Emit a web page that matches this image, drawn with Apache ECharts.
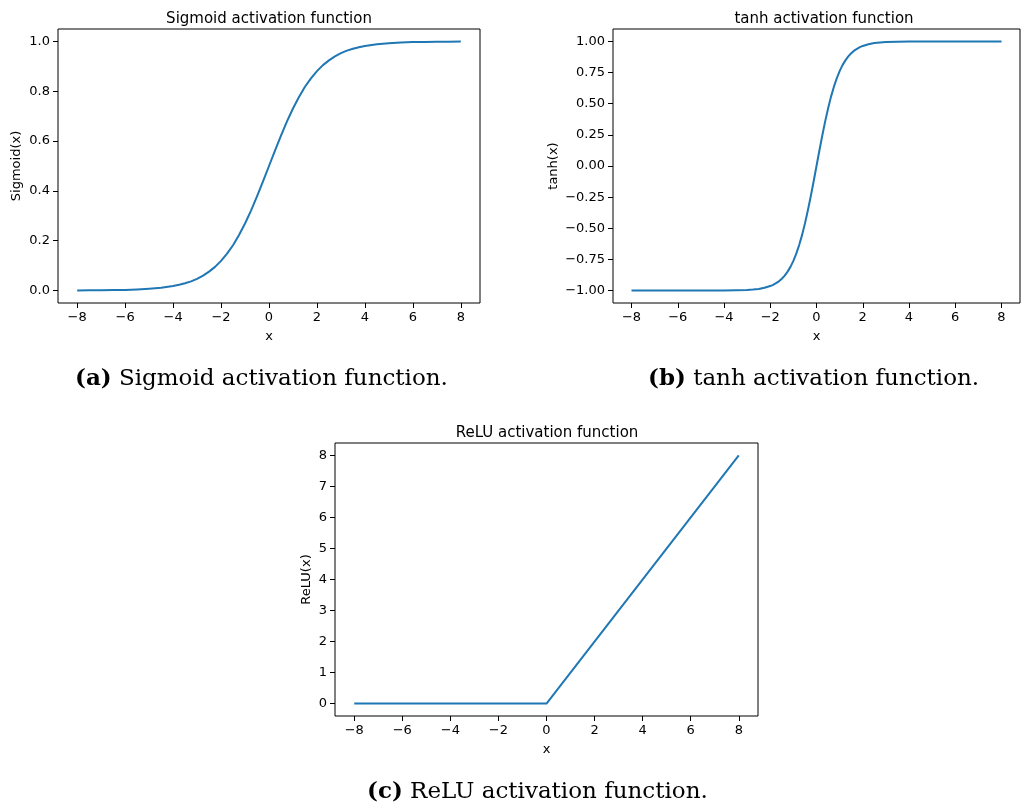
<!DOCTYPE html>
<html lang="en">
<head>
  <meta charset="UTF-8">
  <title>Activation functions</title>
  <script src="https://cdn.jsdelivr.net/npm/echarts@6/dist/echarts.min.js"></script>
  <style>
    html, body { margin: 0; padding: 0; background: #fff; }
  </style>
</head>
<body>
    <div id="main" style="width: 1024px;height:807px;"></div>
    <script type="text/javascript">
        // values
        var sigX = [-8, -7.5, -7, -6.5, -6, -5.5, -5, -4.5, -4, -3.75, -3.5, -3.25, -3, -2.75, -2.5, -2.25, -2, -1.75,
                    -1.5, -1.25, -1, -0.75, -0.5, -0.25, 0, 0.25, 0.5, 0.75, 1, 1.25, 1.5, 1.75, 2, 2.25, 2.5, 2.75,
                    3, 3.25, 3.5, 3.75, 4, 4.5, 5, 5.5, 6, 6.5, 7, 7.5, 8];
        var sigY = [0.000, 0.001, 0.001, 0.002, 0.002, 0.004, 0.007, 0.011, 0.018, 0.023, 0.029, 0.037, 0.047, 0.060, 0.076, 0.095, 0.119, 0.148,
                    0.182, 0.223, 0.269, 0.321, 0.378, 0.438, 0.500, 0.562, 0.622, 0.679, 0.731, 0.777, 0.818, 0.852, 0.881, 0.905, 0.924, 0.940,
                    0.953, 0.963, 0.971, 0.977, 0.982, 0.989, 0.993, 0.996, 0.998, 0.998, 0.999, 0.999, 1.000];

        var tanhX = [-8, -6, -4, -3.5, -3, -2.75, -2.5, -2.25, -2, -1.875, -1.75, -1.625, -1.5, -1.375, -1.25, -1.125,
                     -1, -0.875, -0.75, -0.625, -0.5, -0.375, -0.25, -0.125, 0, 0.125, 0.25, 0.375, 0.5, 0.625, 0.75, 0.875,
                     1, 1.125, 1.25, 1.375, 1.5, 1.625, 1.75, 1.875, 2, 2.25, 2.5, 2.75, 3, 3.5, 4, 6, 8];
        var tanhY = [-1.000, -1.000, -0.999, -0.998, -0.995, -0.992, -0.987, -0.978, -0.964, -0.954, -0.941, -0.926, -0.905, -0.880, -0.848, -0.810,
                     -0.762, -0.704, -0.635, -0.555, -0.462, -0.358, -0.245, -0.124, 0.000, 0.124, 0.245, 0.358, 0.462, 0.555, 0.635, 0.704,
                     0.762, 0.810, 0.848, 0.880, 0.905, 0.926, 0.941, 0.954, 0.964, 0.978, 0.987, 0.992, 0.995, 0.998, 0.999, 1.000, 1.000];

        var reluX = [-8, 0, 8];
        var reluY = [0, 0, 8];

        var xTicks = [-8, -6, -4, -2, 0, 2, 4, 6, 8];
        var sigTicks = [0, 0.2, 0.4, 0.6, 0.8, 1.0];
        var tanhTicks = [-1, -0.75, -0.5, -0.25, 0, 0.25, 0.5, 0.75, 1];
        var reluTicks = [0, 1, 2, 3, 4, 5, 6, 7, 8];

        var titles = ['Sigmoid activation function', 'tanh activation function', 'ReLU activation function'];
        var yNames = ['Sigmoid(x)', 'tanh(x)', 'ReLU(x)'];

        function pairs(xs, ys) {
            var out = [];
            for (var i = 0; i < xs.length; i++) out.push([xs[i], ys[i]]);
            return out;
        }
        function fmt(digits) {
            return function (v) { return v.toFixed(digits).replace('-', '\u2212'); };
        }

        var font = 'DejaVu Sans';
        var grids = [
            {left: 58, top: 29, width: 422, height: 274},
            {left: 613, top: 29, width: 407, height: 274},
            {left: 335, top: 443, width: 423, height: 273}
        ];
        grids.forEach(function (g) {
            g.show = true; g.borderColor = '#000'; g.borderWidth = 1;
            g.backgroundColor = 'transparent'; g.containLabel = false;
        });

        function xAxis(i) {
            return {
                type: 'value', gridIndex: i, min: -8.8, max: 8.8,
                name: 'x', nameLocation: 'middle', nameGap: 27,
                nameTextStyle: {fontFamily: font, fontSize: 13, color: '#000'},
                axisLine: {show: false, onZero: false},
                axisTick: {show: true, customValues: xTicks, length: 5, lineStyle: {color: '#000'}},
                axisLabel: {customValues: xTicks, formatter: fmt(0), fontFamily: font, fontSize: 13, color: '#000', margin: 8},
                splitLine: {show: false}
            };
        }
        function yAxis(i, min, max, ticks, digits, gap) {
            return {
                type: 'value', gridIndex: i, min: min, max: max,
                name: yNames[i], nameLocation: 'middle', nameGap: gap,
                nameTextStyle: {fontFamily: font, fontSize: 13, color: '#000'},
                axisLine: {show: false, onZero: false},
                axisTick: {show: true, customValues: ticks, length: 5, lineStyle: {color: '#000'}},
                axisLabel: {customValues: ticks, formatter: fmt(digits), fontFamily: font, fontSize: 13, color: '#000', margin: 8},
                splitLine: {show: false}
            };
        }

        function series(i, xs, ys) {
            return {
                type: 'line', xAxisIndex: i, yAxisIndex: i,
                data: pairs(xs, ys), showSymbol: false, symbol: 'none',
                lineStyle: {color: '#1f77b4', width: 2, join: 'round'},
                animation: false
            };
        }

        var capFont = 'DejaVu Serif';
        function caption(x, y, tag, txt) {
            return {
                type: 'text', left: x, top: y,
                style: {
                    text: '{b|' + tag + '} {n|' + txt + '}',
                    fill: '#000', fontFamily: capFont, fontSize: 23,
                    rich: {
                        b: {fontFamily: capFont, fontSize: 23, fontWeight: 'bold'},
                        n: {fontFamily: capFont, fontSize: 23}
                    }
                }
            };
        }

        var myChart = echarts.init(document.getElementById('main'), null, {renderer: 'canvas'});
        var option = {
            animation: false,
            backgroundColor: '#fff',
            title: [
                {text: titles[0], left: 264, top: 7, textAlign: 'center'},
                {text: titles[1], left: 819, top: 7, textAlign: 'center'},
                {text: titles[2], left: 542, top: 421, textAlign: 'center'}
            ].map(function (t) {
                t.textStyle = {fontFamily: font, fontSize: 15, fontWeight: 'normal', color: '#000'};
                return t;
            }),
            grid: grids,
            xAxis: [xAxis(0), xAxis(1), xAxis(2)],
            yAxis: [
                yAxis(0, -0.05, 1.05, sigTicks, 1, 35),
                yAxis(1, -1.1, 1.1, tanhTicks, 2, 53),
                yAxis(2, -0.4, 8.4, reluTicks, 0, 22)
            ],
            series: [
                series(0, sigX, sigY),
                series(1, tanhX, tanhY),
                series(2, reluX, reluY)
            ],
            graphic: [
                caption(75, 368, '(a)', 'Sigmoid activation function.'),
                caption(648, 368, '(b)', 'tanh activation function.'),
                caption(367, 781, '(c)', 'ReLU activation function.')
            ]
        };
        myChart.setOption(option);
    </script>
</body>
</html>
